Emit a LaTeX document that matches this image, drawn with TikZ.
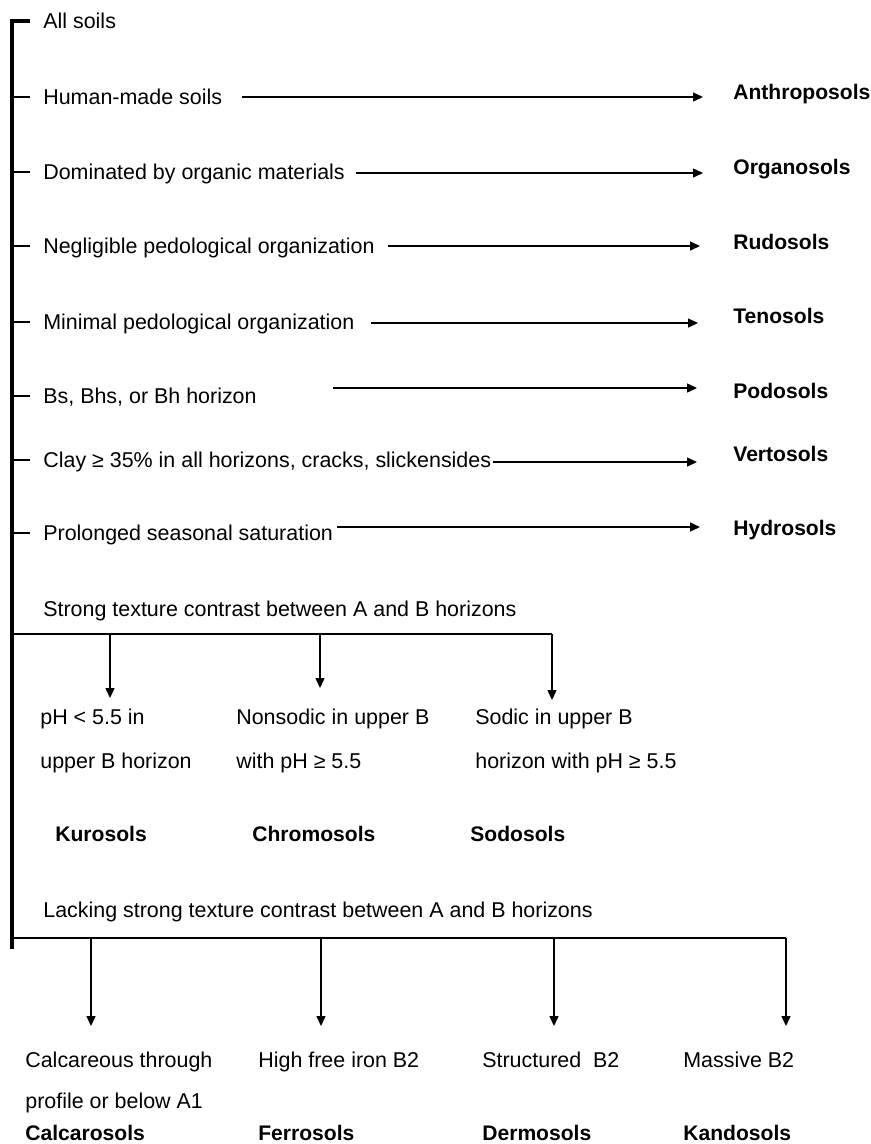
\documentclass[tikz,border=0pt]{standalone}
\usepackage{fontspec}
\setmainfont{Liberation Sans}
\usetikzlibrary{arrows.meta}

\tikzset{
  cond/.style={anchor=west, inner xsep=0.26cm, inner ysep=0pt, text height=8.7pt, text depth=0pt},
  head/.style={anchor=west, inner sep=0pt, text height=8.7pt, text depth=0pt},
  soil/.style={anchor=west, inner sep=0pt, text height=8.7pt, text depth=0pt,
    font=\fontsize{12}{14}\selectfont\bfseries},
  note/.style={anchor=north west, inner sep=0pt, align=left},
  arr/.style={line width=0.8pt, -{Triangle[length=0.2cm,width=0.18cm]}},
  spine/.style={line width=1.8pt},
  tick/.style={line width=1.4pt},
  bar/.style={line width=1.4pt},
}

\begin{document}
\begin{tikzpicture}[x=0.02cm, y=-0.02cm, font=\fontsize{12.2}{14}\selectfont]
      \useasboundingbox (0,0) rectangle (871,1144);
      \coordinate (top) at (12,21);
      \coordinate (bot) at (12,949);

      % conditions along the spine
      \node[cond] (all) at (30,21) {All soils};
      \node[cond] (hum) at (30,97) {Human-made soils};
      \node[cond] (org) at (30,172) {Dominated by organic materials};
      \node[cond] (neg) at (30,246) {Negligible pedological organization};
      \node[cond] (min) at (30,322) {Minimal pedological organization};
      \node[cond] (bs) at (30,396) {Bs, Bhs, or Bh horizon};
      \node[cond] (clay) at (30,460) {Clay ≥ 35\% in all horizons, cracks, slickensides};
      \node[cond] (prol) at (30,533) {Prolonged seasonal saturation};

      % orders
      \node[soil] (anth) at (733,92) {Anthroposols};
      \node[soil] (orga) at (733,167) {Organosols};
      \node[soil] (rudo) at (733,242) {Rudosols};
      \node[soil] (teno) at (733,316) {Tenosols};
      \node[soil] (podo) at (733,391) {Podosols};
      \node[soil] (vert) at (733,454) {Vertosols};
      \node[soil] (hydr) at (733,528) {Hydrosols};

      \draw[spine] (all.west) -- (top) -- (bot);
      \begin{scope}[tick]
        \draw (hum.west -| top) -- (hum.west);
        \draw (org.west -| top) -- (org.west);
        \draw (neg.west -| top) -- (neg.west);
        \draw (min.west -| top) -- (min.west);
        \draw (bs.west -| top) -- (bs.west);
        \draw (clay.west -| top) -- (clay.west);
        \draw (prol.west -| top) -- (prol.west);
      \end{scope}

      \coordinate (hum-s) at (242,97);
      \coordinate (org-s) at (356,173);
      \coordinate (neg-s) at (388,246);
      \coordinate (min-s) at (371,323);
      \coordinate (bs-s) at (333,388);
      \coordinate (clay-s) at (493,462);
      \coordinate (prol-s) at (337,527);
      \begin{scope}[arr]
        \draw[shorten >=0.6cm] (hum-s) -- (hum-s -| anth.west);
        \draw[shorten >=0.6cm] (org-s) -- (org-s -| orga.west);
        \draw[shorten >=0.66cm] (neg-s) -- (neg-s -| rudo.west);
        \draw[shorten >=0.7cm] (min-s) -- (min-s -| teno.west);
        \draw[shorten >=0.72cm] (bs-s) -- (bs-s -| podo.west);
        \draw[shorten >=0.72cm] (clay-s) -- (clay-s -| vert.west);
        \draw[shorten >=0.66cm] (prol-s) -- (prol-s -| hydr.west);
      \end{scope}

      % strong texture contrast
      \node[head] (strong) at (43,609) {Strong texture contrast between A and B horizons};
      \coordinate (sbar) at (552,634);
      \draw[bar] (sbar -| top) -- (sbar);
      \coordinate (s1) at (110,634);
      \coordinate (s2) at (320,634);
      \node[note, font=\fontsize{12.2}{25}\selectfont] (kuro-t) at (40,709) {pH < 5.5 in\\upper B horizon};
      \node[note, font=\fontsize{12.2}{25}\selectfont] (chro-t) at (236,709) {Nonsodic in upper B\\with pH ≥ 5.5};
      \node[note, font=\fontsize{12.2}{25}\selectfont] (sodo-t) at (475,709) {Sodic in upper B\\horizon with pH ≥ 5.5};
      \node[soil] (kuro) at (55,834) {Kurosols};
      \node[soil] (chro) at (252,834) {Chromosols};
      \node[soil] (sodo) at (470,834) {Sodosols};
      \draw[arr, shorten >=0.22cm] (s1) -- (s1 |- kuro-t.north);
      \draw[arr, shorten >=0.42cm] (s2) -- (s2 |- chro-t.north);
      \draw[arr, shorten >=0.18cm] (sbar) -- (sbar |- sodo-t.north);

      % lacking strong texture contrast
      \node[head] (lack) at (43,910) {Lacking strong texture contrast between A and B horizons};
      \coordinate (lbar) at (786,938);
      \draw[bar] (lbar -| top) -- (lbar);
      \coordinate (l1) at (91,938);
      \coordinate (l2) at (321,938);
      \coordinate (l3) at (554,938);
      \node[note, font=\fontsize{12.2}{23}\selectfont] (calc-t) at (25,1052) {Calcareous through\\profile or below A1};
      \node[note] (ferr-t) at (258,1052) {High free iron B2};
      \node[note] (derm-t) at (482,1052) {Structured\ \ B2};
      \node[note] (kand-t) at (683,1052) {Massive B2};
      \node[soil] (calc) at (25,1133) {Calcarosols};
      \node[soil] (ferr) at (258,1133) {Ferrosols};
      \node[soil] (derm) at (482,1133) {Dermosols};
      \node[soil] (kand) at (683,1133) {Kandosols};
      \begin{scope}[arr, shorten >=0.52cm]
        \draw (l1) -- (l1 |- calc-t.north);
        \draw (l2) -- (l2 |- ferr-t.north);
        \draw (l3) -- (l3 |- derm-t.north);
        \draw (lbar) -- (lbar |- kand-t.north);
      \end{scope}
    \end{tikzpicture}
\end{document}
